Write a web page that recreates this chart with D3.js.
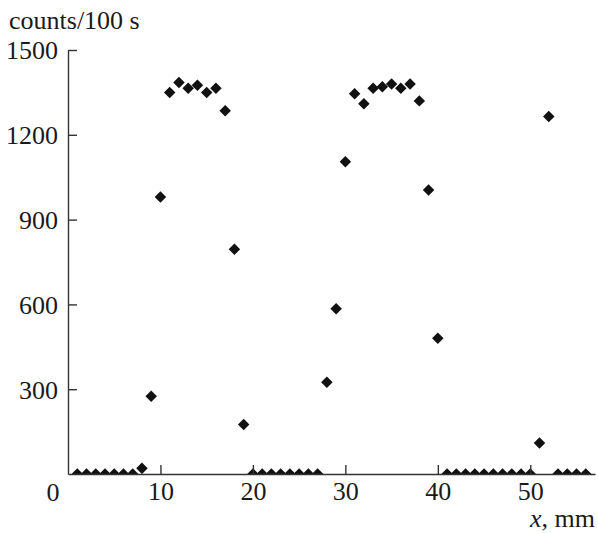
<!DOCTYPE html>
<html>
<head>
<meta charset="utf-8">
<script src="https://cdn.jsdelivr.net/npm/d3@7"></script>
<style>
  body { margin: 0; background: #fff; }
</style>
</head>
<body>
<div id="chart"></div>
<script>
// position along x, mm
const xPos = [1, 2, 3, 4, 5, 6, 7, 8, 9, 10, 11, 12, 13, 14, 15, 16, 17, 18, 19,
  20, 21, 22, 23, 24, 25, 26, 27, 28, 29, 30, 31, 32, 33, 34, 35, 36, 37, 38, 39, 40,
  41, 42, 43, 44, 45, 46, 47, 48, 49, 50, 51, 52, 53, 54, 55, 56];
// counts per 100 s
const counts = [0, 0, 0, 0, 0, 0, 0, 20, 275, 980, 1350, 1385, 1365, 1375, 1350, 1365, 1285, 795, 175,
  0, 0, 0, 0, 0, 0, 0, 0, 325, 585, 1105, 1345, 1310, 1365, 1370, 1380, 1365, 1380, 1320, 1005, 480,
  0, 0, 0, 0, 0, 0, 0, 0, 0, 0, 110, 1265, 0, 0, 0, 0];
const xTicks = [10, 20, 30, 40, 50];
const yTicks = [300, 600, 900, 1200, 1500];

const width = 598, height = 533;
const margin = {left: 68, right: 3, top: 50, bottom: 59};
const serif = "Times New Roman, Liberation Serif, DejaVu Serif, serif";
const fs = 26;

const svg = d3.select("#chart").append("svg")
  .attr("width", width)
  .attr("height", height)
  .attr("font-family", serif)
  .style("font-family", serif);

const x = d3.scaleLinear().domain([0, 57]).range([margin.left, width - margin.right]);
const y = d3.scaleLinear().domain([0, 1500]).range([height - margin.bottom, margin.top]);

svg.append("defs").append("clipPath").attr("id", "plotclip")
  .append("rect")
  .attr("x", margin.left).attr("y", 0)
  .attr("width", width - margin.left).attr("height", y(0));

// points
const data = xPos.map((d, i) => ({x: d, y: counts[i]}));
svg.append("g")
  .attr("clip-path", "url(#plotclip)")
  .selectAll("path")
  .data(data)
  .join("path")
    .attr("d", d3.symbol(d3.symbolSquare, 66))
    .attr("transform", d => `translate(${x(d.x)},${y(d.y)}) rotate(45)`)
    .attr("fill", "#111");

// axes
const xAxis = svg.append("g")
  .attr("transform", `translate(0,${y(0)})`)
  .call(d3.axisBottom(x).tickValues(xTicks).tickFormat(d3.format("d"))
    .tickSizeInner(-9).tickSizeOuter(0).tickPadding(8));
const yAxis = svg.append("g")
  .attr("transform", `translate(${x(0)},0)`)
  .call(d3.axisLeft(y).tickValues(yTicks).tickFormat(d3.format("d"))
    .tickSizeInner(-9).tickSizeOuter(0).tickPadding(10));

[xAxis, yAxis].forEach(g => {
  g.attr("font-family", null).attr("font-size", fs);
  g.select(".domain").attr("stroke", "#333").attr("stroke-width", 1.4);
  g.selectAll(".tick line").attr("stroke", "#333").attr("stroke-width", 1.4);
  g.selectAll(".tick text").attr("fill", "#1a1a1a").style("font-family", serif);
});
yAxis.selectAll(".tick text").attr("x", -10).attr("dy", "0.34em");

// origin label
svg.append("text")
  .attr("x", 53).attr("y", 501)
  .attr("text-anchor", "middle")
  .attr("font-size", fs)
  .attr("fill", "#1a1a1a")
  .text("0");

// axis titles
svg.append("text")
  .attr("x", 9).attr("y", 29)
  .attr("font-size", fs)
  .attr("fill", "#1a1a1a")
  .text("counts/100 s");

const xt = svg.append("text")
  .attr("x", 595).attr("y", 527)
  .attr("text-anchor", "end")
  .attr("font-size", fs)
  .attr("fill", "#1a1a1a");
xt.append("tspan").attr("font-style", "italic").text("x");
xt.append("tspan").text(", mm");
</script>
</body>
</html>
